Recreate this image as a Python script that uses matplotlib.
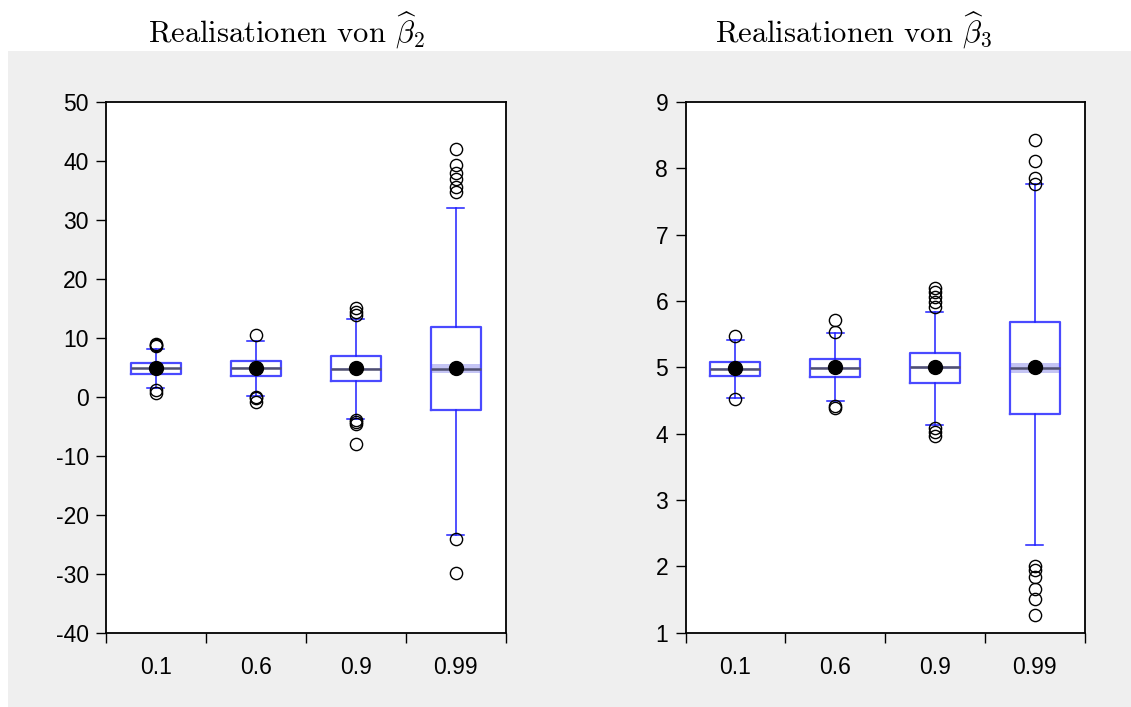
import matplotlib
matplotlib.use('Agg')
import matplotlib.pyplot as plt
from matplotlib.patches import Rectangle
from matplotlib.ticker import FixedLocator, FixedFormatter, NullFormatter

plt.rcParams['font.family'] = ['Liberation Sans', 'DejaVu Sans']
plt.rcParams['mathtext.fontset'] = 'cm'
plt.rcParams['axes.unicode_minus'] = False

categories = ['0.1', '0.6', '0.9', '0.99']

# Realisationen von beta2
b2_q1 = [3.93, 3.59, 2.62, -2.3]
b2_med = [4.83, 4.83, 4.75, 4.72]
b2_q3 = [5.73, 6.08, 6.93, 11.85]
b2_whislo = [1.55, 0.13, -3.7, -23.4]
b2_whishi = [8.17, 9.53, 13.27, 32.0]
b2_mean = [4.9, 4.9, 4.9, 4.9]
b2_ci_lo = [4.74, 4.65, 4.55, 3.95]
b2_ci_hi = [4.92, 5.01, 4.95, 5.5]
b2_fliers = [
    [8.6, 8.8, 9.0, 1.2, 0.6],
    [10.55, 0.0, -0.3, -0.9],
    [13.8, 14.4, 14.97, -3.9, -4.3, -4.6, -7.96],
    [42.1, 39.3, 37.9, 37.0, 35.6, 34.8, -24.1, -29.9],
]
b2_yticks = [-40, -30, -20, -10, 0, 10, 20, 30, 40, 50]

# Realisationen von beta3
b3_q1 = [4.864, 4.85, 4.76, 4.29]
b3_med = [4.975, 4.995, 5.0, 4.985]
b3_q3 = [5.085, 5.125, 5.21, 5.68]
b3_whislo = [4.54, 4.49, 4.13, 2.32]
b3_whishi = [5.41, 5.513, 5.835, 7.76]
b3_mean = [4.99, 5.0, 5.0, 5.0]
b3_ci_lo = [4.965, 4.98, 4.98, 4.91]
b3_ci_hi = [4.987, 5.01, 5.02, 5.06]
b3_fliers = [
    [5.47, 4.52],
    [5.53, 5.71, 4.41, 4.39],
    [6.19, 6.14, 6.06, 5.99, 5.91, 4.08, 4.02, 3.97],
    [8.43, 8.11, 7.85, 7.77, 2.0, 1.95, 1.83, 1.66, 1.5, 1.27],
]
b3_yticks = [1, 2, 3, 4, 5, 6, 7, 8, 9]

titles = [r'Realisationen von $\widehat{\beta}_2$', r'Realisationen von $\widehat{\beta}_3$']

W, H = 1131, 707
fig = plt.figure(figsize=(W / 100, H / 100), dpi=100)
fig.patch.set_facecolor('white')
fig.patches.append(Rectangle((8 / W, 0), 1, 1 - 51 / H, transform=fig.transFigure,
                             facecolor='#efefef', edgecolor='none', zorder=-10))

ax_l = fig.add_axes([106 / W, 1 - 632.5 / H, 399.5 / W, 530.5 / H])
ax_r = fig.add_axes([685.5 / W, 1 - 632.5 / H, 399 / W, 530.5 / H])

panels = [
    (ax_l, b2_q1, b2_med, b2_q3, b2_whislo, b2_whishi, b2_mean, b2_ci_lo, b2_ci_hi, b2_fliers, b2_yticks),
    (ax_r, b3_q1, b3_med, b3_q3, b3_whislo, b3_whishi, b3_mean, b3_ci_lo, b3_ci_hi, b3_fliers, b3_yticks),
]

positions = list(range(1, len(categories) + 1))
for ax, q1, med, q3, wlo, whi, mean, cilo, cihi, fl, yt in panels:
    stats = []
    for i in range(len(categories)):
        stats.append(dict(q1=q1[i], med=med[i], q3=q3[i], whislo=wlo[i], whishi=whi[i],
                          mean=mean[i], fliers=fl[i], label=categories[i]))
    for p, lo, hi in zip(positions, cilo, cihi):
        ax.fill_between([p - 0.25, p + 0.25], lo, hi, color='#c4c4f4', lw=0, zorder=1.5)
    ax.bxp(stats, positions=positions, widths=0.5, capwidths=0.17, showmeans=True,
           showfliers=True, patch_artist=False,
           boxprops=dict(color='#4a4aff', linewidth=1.6),
           whiskerprops=dict(color='#2020ff', linewidth=1.1),
           capprops=dict(color='#2020ff', linewidth=1.1),
           medianprops=dict(color='#505070', linewidth=1.8),
           meanprops=dict(marker='o', markerfacecolor='black', markeredgecolor='black',
                          markersize=10),
           flierprops=dict(marker='o', markerfacecolor='none', markeredgecolor='black',
                           markersize=8.8, markeredgewidth=1.0))
    ax.set_xlim(0.5, len(categories) + 0.5)
    ax.set_ylim(yt[0], yt[-1])
    ax.yaxis.set_major_locator(FixedLocator(yt))
    ax.yaxis.set_major_formatter(FixedFormatter([str(v) for v in yt]))
    ax.xaxis.set_major_locator(FixedLocator([p - 0.5 for p in positions] + [positions[-1] + 0.5]))
    ax.xaxis.set_major_formatter(NullFormatter())
    ax.xaxis.set_minor_locator(FixedLocator(positions))
    ax.xaxis.set_minor_formatter(FixedFormatter(categories))
    ax.tick_params(axis='x', which='major', direction='out', length=7.5, width=1.0, color='black')
    ax.tick_params(axis='x', which='minor', length=0, pad=17, labelsize=16.5)
    ax.tick_params(axis='y', which='major', direction='out', length=7.5, width=1.0, pad=5,
                   labelsize=16.5)
    for s in ax.spines.values():
        s.set_linewidth(1.3)
        s.set_color('black')
    ax.set_facecolor('white')

fig.text(287 / W, 1 - 43 / H, titles[0], ha='center', va='baseline', fontsize=22,
         family='cmr10')
fig.text(854 / W, 1 - 43 / H, titles[1], ha='center', va='baseline', fontsize=22,
         family='cmr10')

fig.savefig('out.png', dpi=100)
